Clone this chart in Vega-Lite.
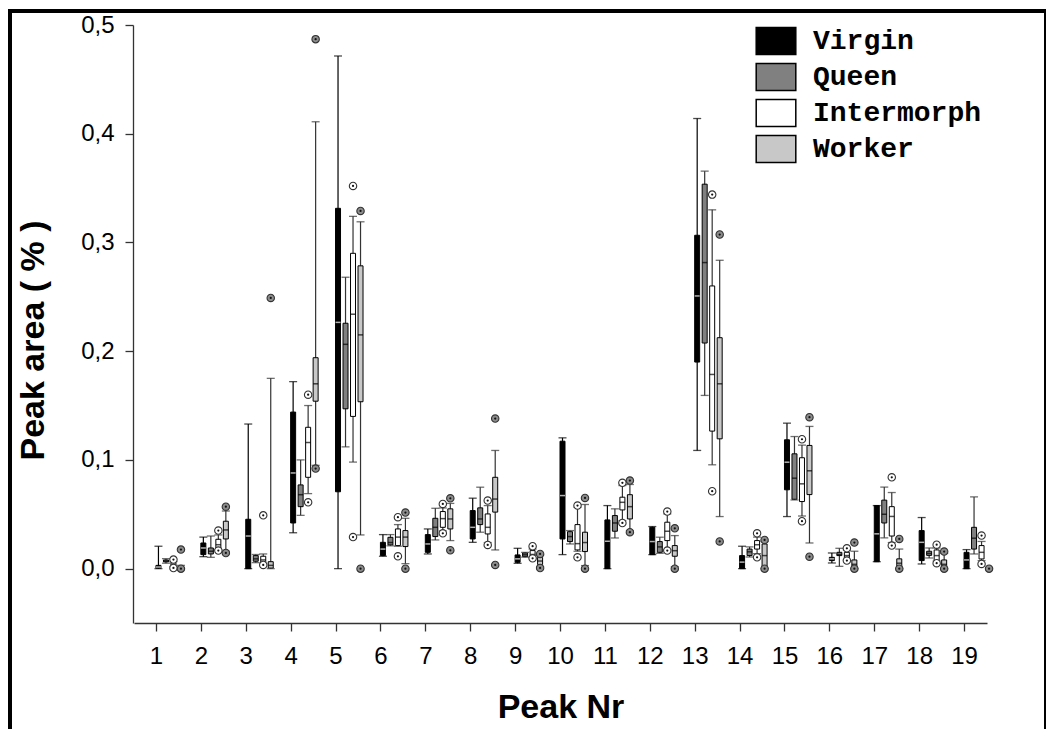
{
  "$schema": "https://vega.github.io/schema/vega-lite/v6.json",
  "autosize": {"type": "none"},
  "padding": {"left": 10, "top": 11, "right": 0, "bottom": 0},
  "width": 1036,
  "height": 740,
  "background": "white",
  "config": {
    "view": {"stroke": "black", "strokeWidth": 4},
    "axis": {
      "grid": false,
      "domainColor": "#333333",
      "domainWidth": 1.3,
      "tickColor": "#333333",
      "tickWidth": 1.3,
      "tickSize": 8,
      "labelFont": "Liberation Sans",
      "labelFontSize": 24,
      "labelColor": "black",
      "titleFont": "Liberation Sans",
      "titleFontSize": 34,
      "titleFontWeight": "bold",
      "titleColor": "black"
    }
  },
  "datasets": {
    "boxes": [
      {"peak": 1, "group": "Virgin", "lo": 0.0, "q1": 0.0005, "med": 0.0015, "q3": 0.003, "hi": 0.0206},
      {"peak": 1, "group": "Queen", "lo": 0.005, "q1": 0.0062, "med": 0.007, "q3": 0.008, "hi": 0.0092},
      {"peak": 1, "group": "Intermorph", "lo": 0.002, "q1": 0.0028, "med": 0.004, "q3": 0.0058, "hi": 0.0065},
      {"peak": 1, "group": "Worker", "lo": 0.0, "q1": 0.0004, "med": 0.001, "q3": 0.002, "hi": 0.003},
      {"peak": 2, "group": "Virgin", "lo": 0.011, "q1": 0.0129, "med": 0.019, "q3": 0.0236, "hi": 0.029},
      {"peak": 2, "group": "Queen", "lo": 0.0104, "q1": 0.0135, "med": 0.016, "q3": 0.019, "hi": 0.030},
      {"peak": 2, "group": "Intermorph", "lo": 0.0175, "q1": 0.018, "med": 0.022, "q3": 0.027, "hi": 0.031},
      {"peak": 2, "group": "Worker", "lo": 0.016, "q1": 0.0273, "med": 0.0356, "q3": 0.0436, "hi": 0.053},
      {"peak": 3, "group": "Virgin", "lo": 0.0, "q1": 0.0, "med": 0.030, "q3": 0.0454, "hi": 0.133},
      {"peak": 3, "group": "Queen", "lo": 0.0055, "q1": 0.0068, "med": 0.009, "q3": 0.012, "hi": 0.013},
      {"peak": 3, "group": "Intermorph", "lo": 0.0045, "q1": 0.0049, "med": 0.008, "q3": 0.0114, "hi": 0.0135},
      {"peak": 3, "group": "Worker", "lo": 0.0, "q1": 0.0005, "med": 0.003, "q3": 0.0064, "hi": 0.175},
      {"peak": 4, "group": "Virgin", "lo": 0.033, "q1": 0.042, "med": 0.088, "q3": 0.144, "hi": 0.172},
      {"peak": 4, "group": "Queen", "lo": 0.049, "q1": 0.057, "med": 0.068, "q3": 0.077, "hi": 0.100},
      {"peak": 4, "group": "Intermorph", "lo": 0.069, "q1": 0.084, "med": 0.116, "q3": 0.130, "hi": 0.150},
      {"peak": 4, "group": "Worker", "lo": 0.095, "q1": 0.154, "med": 0.170, "q3": 0.194, "hi": 0.411},
      {"peak": 5, "group": "Virgin", "lo": 0.0, "q1": 0.0707, "med": 0.2265, "q3": 0.3314, "hi": 0.4715},
      {"peak": 5, "group": "Queen", "lo": 0.112, "q1": 0.147, "med": 0.2063, "q3": 0.2257, "hi": 0.268},
      {"peak": 5, "group": "Intermorph", "lo": 0.098, "q1": 0.140, "med": 0.234, "q3": 0.290, "hi": 0.324},
      {"peak": 5, "group": "Worker", "lo": 0.031, "q1": 0.1535, "med": 0.215, "q3": 0.2785, "hi": 0.319},
      {"peak": 6, "group": "Virgin", "lo": 0.0114, "q1": 0.012, "med": 0.018, "q3": 0.0242, "hi": 0.0313},
      {"peak": 6, "group": "Queen", "lo": 0.021, "q1": 0.0218, "med": 0.024, "q3": 0.0288, "hi": 0.0313},
      {"peak": 6, "group": "Intermorph", "lo": 0.0206, "q1": 0.0212, "med": 0.029, "q3": 0.0365, "hi": 0.0405},
      {"peak": 6, "group": "Worker", "lo": 0.0046, "q1": 0.0203, "med": 0.029, "q3": 0.035, "hi": 0.0463},
      {"peak": 7, "group": "Virgin", "lo": 0.0135, "q1": 0.015, "med": 0.0227, "q3": 0.0313, "hi": 0.0365},
      {"peak": 7, "group": "Queen", "lo": 0.0264, "q1": 0.0295, "med": 0.038, "q3": 0.0463, "hi": 0.0555},
      {"peak": 7, "group": "Intermorph", "lo": 0.0347, "q1": 0.038, "med": 0.046, "q3": 0.0525, "hi": 0.0558},
      {"peak": 7, "group": "Worker", "lo": 0.0258, "q1": 0.0365, "med": 0.0457, "q3": 0.055, "hi": 0.060},
      {"peak": 8, "group": "Virgin", "lo": 0.0242, "q1": 0.0273, "med": 0.038, "q3": 0.0534, "hi": 0.0648},
      {"peak": 8, "group": "Queen", "lo": 0.0335, "q1": 0.0405, "med": 0.0457, "q3": 0.0559, "hi": 0.0749},
      {"peak": 8, "group": "Intermorph", "lo": 0.024, "q1": 0.0319, "med": 0.038, "q3": 0.0503, "hi": 0.058},
      {"peak": 8, "group": "Worker", "lo": 0.0172, "q1": 0.052, "med": 0.064, "q3": 0.084, "hi": 0.1087},
      {"peak": 9, "group": "Virgin", "lo": 0.0049, "q1": 0.0058, "med": 0.009, "q3": 0.0126, "hi": 0.0187},
      {"peak": 9, "group": "Queen", "lo": 0.0105, "q1": 0.011, "med": 0.0127, "q3": 0.0144, "hi": 0.015},
      {"peak": 9, "group": "Intermorph", "lo": 0.010, "q1": 0.0104, "med": 0.013, "q3": 0.0166, "hi": 0.018},
      {"peak": 9, "group": "Worker", "lo": 0.002, "q1": 0.0037, "med": 0.007, "q3": 0.0104, "hi": 0.0126},
      {"peak": 10, "group": "Virgin", "lo": 0.0129, "q1": 0.0273, "med": 0.0672, "q3": 0.1172, "hi": 0.1203},
      {"peak": 10, "group": "Queen", "lo": 0.0227, "q1": 0.0249, "med": 0.0295, "q3": 0.034, "hi": 0.035},
      {"peak": 10, "group": "Intermorph", "lo": 0.016, "q1": 0.0172, "med": 0.023, "q3": 0.0405, "hi": 0.0565},
      {"peak": 10, "group": "Worker", "lo": 0.0028, "q1": 0.0157, "med": 0.024, "q3": 0.0335, "hi": 0.059},
      {"peak": 11, "group": "Virgin", "lo": 0.0, "q1": 0.0, "med": 0.0252, "q3": 0.0448, "hi": 0.058},
      {"peak": 11, "group": "Queen", "lo": 0.0282, "q1": 0.0344, "med": 0.042, "q3": 0.0488, "hi": 0.055},
      {"peak": 11, "group": "Intermorph", "lo": 0.0442, "q1": 0.054, "med": 0.061, "q3": 0.0657, "hi": 0.0764},
      {"peak": 11, "group": "Worker", "lo": 0.035, "q1": 0.0457, "med": 0.057, "q3": 0.068, "hi": 0.0774},
      {"peak": 12, "group": "Virgin", "lo": 0.0129, "q1": 0.0129, "med": 0.0249, "q3": 0.038, "hi": 0.0387},
      {"peak": 12, "group": "Queen", "lo": 0.0141, "q1": 0.015, "med": 0.020, "q3": 0.0249, "hi": 0.0289},
      {"peak": 12, "group": "Intermorph", "lo": 0.0175, "q1": 0.0258, "med": 0.0344, "q3": 0.0427, "hi": 0.0503},
      {"peak": 12, "group": "Worker", "lo": 0.0018, "q1": 0.0114, "med": 0.0165, "q3": 0.0212, "hi": 0.0304},
      {"peak": 13, "group": "Virgin", "lo": 0.1087, "q1": 0.19, "med": 0.2508, "q3": 0.3066, "hi": 0.414},
      {"peak": 13, "group": "Queen", "lo": 0.1593, "q1": 0.2075, "med": 0.2815, "q3": 0.3536, "hi": 0.3656},
      {"peak": 13, "group": "Intermorph", "lo": 0.0955, "q1": 0.1265, "med": 0.1786, "q3": 0.26, "hi": 0.330},
      {"peak": 13, "group": "Worker", "lo": 0.0479, "q1": 0.1194, "med": 0.17, "q3": 0.2124, "hi": 0.2836},
      {"peak": 14, "group": "Virgin", "lo": 0.0, "q1": 0.0, "med": 0.006, "q3": 0.012, "hi": 0.0206},
      {"peak": 14, "group": "Queen", "lo": 0.0107, "q1": 0.012, "med": 0.0155, "q3": 0.018, "hi": 0.02},
      {"peak": 14, "group": "Intermorph", "lo": 0.0138, "q1": 0.018, "med": 0.022, "q3": 0.0258, "hi": 0.029},
      {"peak": 14, "group": "Worker", "lo": 0.0, "q1": 0.0012, "med": 0.012, "q3": 0.0227, "hi": 0.025},
      {"peak": 15, "group": "Virgin", "lo": 0.0479, "q1": 0.0725, "med": 0.0979, "q3": 0.1185, "hi": 0.1338},
      {"peak": 15, "group": "Queen", "lo": 0.0632, "q1": 0.0638, "med": 0.0832, "q3": 0.1056, "hi": 0.1215},
      {"peak": 15, "group": "Intermorph", "lo": 0.0484, "q1": 0.0617, "med": 0.078, "q3": 0.102, "hi": 0.1136},
      {"peak": 15, "group": "Worker", "lo": 0.0236, "q1": 0.0681, "med": 0.09, "q3": 0.1133, "hi": 0.1308},
      {"peak": 16, "group": "Virgin", "lo": 0.0052, "q1": 0.0074, "med": 0.009, "q3": 0.0104, "hi": 0.0144},
      {"peak": 16, "group": "Queen", "lo": 0.0021, "q1": 0.012, "med": 0.013, "q3": 0.015, "hi": 0.0187},
      {"peak": 16, "group": "Intermorph", "lo": 0.008, "q1": 0.0089, "med": 0.012, "q3": 0.015, "hi": 0.017},
      {"peak": 16, "group": "Worker", "lo": 0.0, "q1": 0.0012, "med": 0.004, "q3": 0.008, "hi": 0.016},
      {"peak": 17, "group": "Virgin", "lo": 0.0064, "q1": 0.0064, "med": 0.032, "q3": 0.058, "hi": 0.058},
      {"peak": 17, "group": "Queen", "lo": 0.0283, "q1": 0.042, "med": 0.05, "q3": 0.063, "hi": 0.075},
      {"peak": 17, "group": "Intermorph", "lo": 0.024, "q1": 0.030, "med": 0.048, "q3": 0.057, "hi": 0.070},
      {"peak": 17, "group": "Worker", "lo": 0.0, "q1": 0.0012, "med": 0.005, "q3": 0.009, "hi": 0.018},
      {"peak": 18, "group": "Virgin", "lo": 0.0043, "q1": 0.0074, "med": 0.0242, "q3": 0.035, "hi": 0.047},
      {"peak": 18, "group": "Queen", "lo": 0.0098, "q1": 0.0122, "med": 0.014, "q3": 0.016, "hi": 0.019},
      {"peak": 18, "group": "Intermorph", "lo": 0.007, "q1": 0.0074, "med": 0.012, "q3": 0.0172, "hi": 0.019},
      {"peak": 18, "group": "Worker", "lo": 0.0, "q1": 0.0012, "med": 0.004, "q3": 0.008, "hi": 0.014},
      {"peak": 19, "group": "Virgin", "lo": 0.0, "q1": 0.0, "med": 0.008, "q3": 0.015, "hi": 0.0175},
      {"peak": 19, "group": "Queen", "lo": 0.0135, "q1": 0.018, "med": 0.028, "q3": 0.038, "hi": 0.066},
      {"peak": 19, "group": "Intermorph", "lo": 0.0074, "q1": 0.0089, "med": 0.015, "q3": 0.0212, "hi": 0.025},
      {"peak": 19, "group": "Worker", "lo": 0.0, "q1": 0.0, "med": 0.0005, "q3": 0.001, "hi": 0.001}
    ],
    "outliers": [
      {"peak": 1, "group": "Intermorph", "value": 0.0083},
      {"peak": 1, "group": "Intermorph", "value": 0.0006},
      {"peak": 1, "group": "Worker", "value": 0.0175},
      {"peak": 1, "group": "Worker", "value": 0.0},
      {"peak": 2, "group": "Intermorph", "value": 0.035},
      {"peak": 2, "group": "Intermorph", "value": 0.0166},
      {"peak": 2, "group": "Worker", "value": 0.057},
      {"peak": 2, "group": "Worker", "value": 0.0144},
      {"peak": 3, "group": "Intermorph", "value": 0.049},
      {"peak": 3, "group": "Intermorph", "value": 0.0034},
      {"peak": 3, "group": "Worker", "value": 0.249},
      {"peak": 4, "group": "Intermorph", "value": 0.160},
      {"peak": 4, "group": "Intermorph", "value": 0.061},
      {"peak": 4, "group": "Worker", "value": 0.487},
      {"peak": 4, "group": "Worker", "value": 0.092},
      {"peak": 5, "group": "Intermorph", "value": 0.352},
      {"peak": 5, "group": "Intermorph", "value": 0.029},
      {"peak": 5, "group": "Worker", "value": 0.329},
      {"peak": 5, "group": "Worker", "value": 0.0},
      {"peak": 6, "group": "Intermorph", "value": 0.0473},
      {"peak": 6, "group": "Intermorph", "value": 0.0113},
      {"peak": 6, "group": "Worker", "value": 0.0516},
      {"peak": 6, "group": "Worker", "value": 0.0},
      {"peak": 7, "group": "Intermorph", "value": 0.0595},
      {"peak": 7, "group": "Intermorph", "value": 0.0325},
      {"peak": 7, "group": "Worker", "value": 0.0647},
      {"peak": 7, "group": "Worker", "value": 0.0169},
      {"peak": 8, "group": "Intermorph", "value": 0.0626},
      {"peak": 8, "group": "Intermorph", "value": 0.0218},
      {"peak": 8, "group": "Worker", "value": 0.138},
      {"peak": 8, "group": "Worker", "value": 0.0034},
      {"peak": 9, "group": "Intermorph", "value": 0.0206},
      {"peak": 9, "group": "Intermorph", "value": 0.0095},
      {"peak": 9, "group": "Worker", "value": 0.0135},
      {"peak": 9, "group": "Worker", "value": 0.0006},
      {"peak": 10, "group": "Intermorph", "value": 0.058},
      {"peak": 10, "group": "Intermorph", "value": 0.0104},
      {"peak": 10, "group": "Worker", "value": 0.065},
      {"peak": 10, "group": "Worker", "value": 0.0},
      {"peak": 11, "group": "Intermorph", "value": 0.0789},
      {"peak": 11, "group": "Intermorph", "value": 0.042},
      {"peak": 11, "group": "Worker", "value": 0.081},
      {"peak": 11, "group": "Worker", "value": 0.0335},
      {"peak": 12, "group": "Intermorph", "value": 0.0525},
      {"peak": 12, "group": "Intermorph", "value": 0.0166},
      {"peak": 12, "group": "Worker", "value": 0.0371},
      {"peak": 12, "group": "Worker", "value": 0.0},
      {"peak": 13, "group": "Intermorph", "value": 0.344},
      {"peak": 13, "group": "Intermorph", "value": 0.0712},
      {"peak": 13, "group": "Worker", "value": 0.3073},
      {"peak": 13, "group": "Worker", "value": 0.025},
      {"peak": 14, "group": "Intermorph", "value": 0.0325},
      {"peak": 14, "group": "Intermorph", "value": 0.0104},
      {"peak": 14, "group": "Worker", "value": 0.0264},
      {"peak": 14, "group": "Worker", "value": 0.0},
      {"peak": 15, "group": "Intermorph", "value": 0.119},
      {"peak": 15, "group": "Intermorph", "value": 0.0436},
      {"peak": 15, "group": "Worker", "value": 0.1393},
      {"peak": 15, "group": "Worker", "value": 0.011},
      {"peak": 16, "group": "Intermorph", "value": 0.0187},
      {"peak": 16, "group": "Intermorph", "value": 0.0074},
      {"peak": 16, "group": "Worker", "value": 0.024},
      {"peak": 16, "group": "Worker", "value": 0.0},
      {"peak": 17, "group": "Intermorph", "value": 0.084},
      {"peak": 17, "group": "Intermorph", "value": 0.0212},
      {"peak": 17, "group": "Worker", "value": 0.0273},
      {"peak": 17, "group": "Worker", "value": 0.0},
      {"peak": 18, "group": "Intermorph", "value": 0.022},
      {"peak": 18, "group": "Intermorph", "value": 0.005},
      {"peak": 18, "group": "Worker", "value": 0.0157},
      {"peak": 18, "group": "Worker", "value": 0.0},
      {"peak": 19, "group": "Intermorph", "value": 0.0304},
      {"peak": 19, "group": "Intermorph", "value": 0.0043},
      {"peak": 19, "group": "Worker", "value": 0.0}
    ]
  },
  "encoding": {
    "x": {
      "field": "peak",
      "type": "ordinal",
      "title": "Peak Nr",
      "scale": {"range": [124, 977], "paddingInner": 0, "paddingOuter": 0},
      "axis": {"orient": "bottom", "offset": -128, "labelAngle": 0, "labelPadding": 13, "labelFontSize": 24, "titleFontSize": 34, "titlePadding": 22}
    },
    "xOffset": {
      "field": "group",
      "type": "nominal",
      "scale": {"domain": ["Virgin", "Queen", "Intermorph", "Worker"], "range": [20.7, 50.7], "paddingInner": 0, "paddingOuter": 0}
    }
  },
  "layer": [
    {
      "data": {"name": "boxes"},
      "mark": {"type": "rule", "strokeWidth": 1.2},
      "encoding": {
        "y": {"field": "lo", "type": "quantitative", "title": "Peak area ( % )",
              "scale": {"domain": [-0.05, 0.5], "range": [612, 14], "nice": false, "zero": false},
              "axis": {"orient": "left", "offset": -123, "values": [0, 0.1, 0.2, 0.3, 0.4, 0.5], "labelExpr": "replace(format(datum.value, '.1f'), '.', ',')", "labelPadding": 11, "labelFontSize": 24, "titleFontSize": 34, "titlePadding": 30, "titleY": 329}},
        "y2": {"field": "hi"},
        "color": {"condition": {"test": "datum.group === 'Virgin'", "value": "#000000"}, "value": "#333333"}
      }
    },
    {
      "data": {"name": "boxes"},
      "mark": {"type": "bar", "width": 5, "stroke": "black", "strokeWidth": 1},
      "encoding": {
        "y": {"field": "q1", "type": "quantitative", "title": "Peak area ( % )",
              "scale": {"domain": [-0.05, 0.5], "range": [612, 14], "nice": false, "zero": false}},
        "y2": {"field": "q3"},
        "fill": {
          "field": "group",
          "type": "nominal",
          "scale": {"domain": ["Virgin", "Queen", "Intermorph", "Worker"], "range": ["#000000", "#808080", "#ffffff", "#c8c8c8"]},
          "legend": {
            "orient": "none", "legendX": 747, "legendY": 11, "title": null,
            "symbolType": "M-1.1,-0.75H1.1V0.75H-1.1Z", "symbolSize": 1296,
            "symbolStrokeColor": "black", "symbolStrokeWidth": 1.5, "symbolOpacity": 1,
            "labelFont": "Liberation Mono", "labelFontSize": 28, "labelFontWeight": "bold",
            "labelColor": "black", "labelOffset": 18, "labelLimit": 400, "rowPadding": 0
          }
        }
      }
    },
    {
      "data": {"name": "boxes"},
      "mark": {"type": "tick", "orient": "horizontal", "size": 5, "thickness": 1.5},
      "encoding": {
        "y": {"field": "med", "type": "quantitative", "title": "Peak area ( % )",
              "scale": {"domain": [-0.05, 0.5], "range": [612, 14], "nice": false, "zero": false}},
        "color": {"condition": {"test": "datum.group === 'Virgin'", "value": "#ffffff"}, "value": "#000000"}
      }
    },
    {
      "data": {"name": "boxes"},
      "mark": {"type": "tick", "orient": "horizontal", "size": 8, "thickness": 1.3},
      "encoding": {
        "y": {"field": "lo", "type": "quantitative", "title": "Peak area ( % )",
              "scale": {"domain": [-0.05, 0.5], "range": [612, 14], "nice": false, "zero": false}},
        "color": {"condition": {"test": "datum.group === 'Virgin'", "value": "#000000"}, "value": "#333333"}
      }
    },
    {
      "data": {"name": "boxes"},
      "mark": {"type": "tick", "orient": "horizontal", "size": 8, "thickness": 1.3},
      "encoding": {
        "y": {"field": "hi", "type": "quantitative", "title": "Peak area ( % )",
              "scale": {"domain": [-0.05, 0.5], "range": [612, 14], "nice": false, "zero": false}},
        "color": {"condition": {"test": "datum.group === 'Virgin'", "value": "#000000"}, "value": "#333333"}
      }
    },
    {
      "data": {"name": "outliers"},
      "mark": {"type": "point", "shape": "circle", "size": 55, "filled": false, "strokeWidth": 1.1, "stroke": "#333333", "opacity": 1},
      "encoding": {
        "y": {"field": "value", "type": "quantitative", "title": "Peak area ( % )",
              "scale": {"domain": [-0.05, 0.5], "range": [612, 14], "nice": false, "zero": false}},
        "fill": {"condition": {"test": "datum.group === 'Worker'", "value": "#8c8c8c"}, "value": "#ffffff"}
      }
    },
    {
      "data": {"name": "outliers"},
      "mark": {"type": "point", "shape": "circle", "size": 5, "filled": true, "color": "#111111", "opacity": 1},
      "encoding": {
        "y": {"field": "value", "type": "quantitative", "title": "Peak area ( % )",
              "scale": {"domain": [-0.05, 0.5], "range": [612, 14], "nice": false, "zero": false}}
      }
    }
  ]
}
